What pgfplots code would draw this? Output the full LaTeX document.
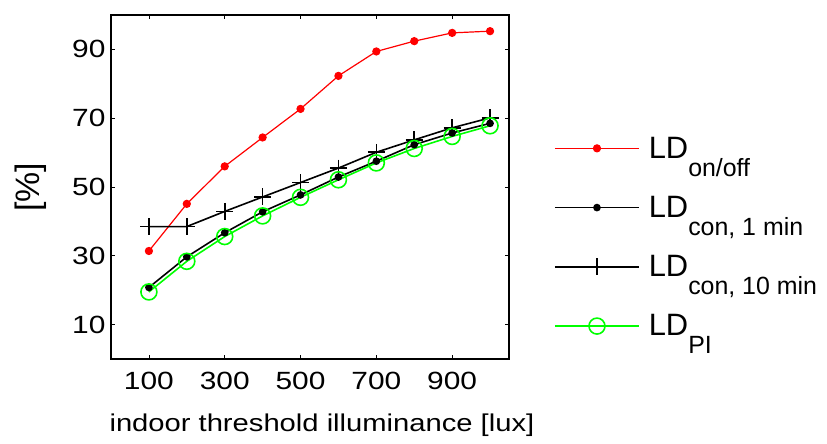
\documentclass[border=0pt]{standalone}
\usepackage{fontspec}
\setmainfont{Liberation Sans}
\newfontfamily\wide{Liberation Sans}[FakeStretch=1.2]
\usepackage{pgfplots}
\pgfplotsset{compat=1.18}
\definecolor{pgreen}{RGB}{0,255,0}
\definecolor{pred}{RGB}{255,0,0}
\newcommand{\sub}[1]{\raisebox{-18bp}{\fontsize{25}{25}\selectfont #1}}
\begin{document}
\begin{tikzpicture}
\begin{axis}[
  scale only axis, width=398bp, height=344bp,
  xmin=0, xmax=1050, ymin=0, ymax=100,
  xtick={100,300,...,900}, ytick={10,30,...,90},
  tick align=inside, major tick length=4bp,
  axis line style={line width=1.5bp},
  every tick/.style={black, line width=0.8bp},
  /pgf/number format/assume math mode=true,
  ticklabel style={font=\wide\fontsize{25}{25}\selectfont},
  xticklabel style={anchor=base, yshift=-30bp},
  yticklabel style={xshift=-2bp},
  xlabel={indoor threshold illuminance [lux]},
  ylabel={\fontsize{34}{36}\selectfont[\%]},
  xlabel style={font=\wide\fontsize{24.4}{25}\selectfont, at={(axis description cs:0.53,-0.212)}, anchor=base},
  ylabel style={at={(axis description cs:-0.2023,0.4985)}, anchor=center},
  legend style={draw=none, fill=none, at={(axis description cs:1.113,0.646)}, anchor=north west,
    font=\fontsize{31}{31}\selectfont, inner sep=0pt, column sep=9bp, row sep=36.5bp,
    nodes={inner sep=0pt}},
  legend cell align=left,
  legend image code/.code={\draw[mark repeat=2,mark phase=2,#1] plot coordinates {(0bp,0bp) (42bp,0bp) (84bp,0bp)};},
]
\addplot[pred, line width=1.2bp, mark=*, mark size=3.5bp] coordinates {
(100,31.4) (200,45.1) (300,56.0) (400,64.4) (500,72.7) (600,82.3) (700,89.4) (800,92.4) (900,94.8) (1000,95.3)};
\addlegendentry{LD\sub{on/off}}
\addplot[black, line width=1.6bp, mark=*, mark size=3bp] coordinates {
(100,20.8) (200,29.7) (300,36.7) (400,42.8) (500,47.7) (600,52.9) (700,57.5) (800,62.3) (900,65.7) (1000,68.5)};
\addlegendentry{LD\sub{con, 1 min}}
\addplot[black, line width=1.6bp, mark=+, mark size=8.5bp] coordinates {
(100,38.5) (200,38.5) (300,42.9) (400,47.1) (500,51.3) (600,55.5) (700,60.1) (800,63.7) (900,67.2) (1000,70.1)};
\addlegendentry{LD\sub{con, 10 min}}
\addplot[pgreen, line width=1.6bp, mark=o, mark size=8bp] coordinates {
(100,19.5) (200,28.4) (300,35.6) (400,41.6) (500,47.0) (600,52.1) (700,57.0) (800,61.2) (900,64.7) (1000,67.8)};
\addlegendentry{LD\sub{PI}}
\end{axis}
\pgfresetboundingbox
\path[use as bounding box] (-111bp,-85bp) rectangle (716bp,359bp);
\end{tikzpicture}
\end{document}
